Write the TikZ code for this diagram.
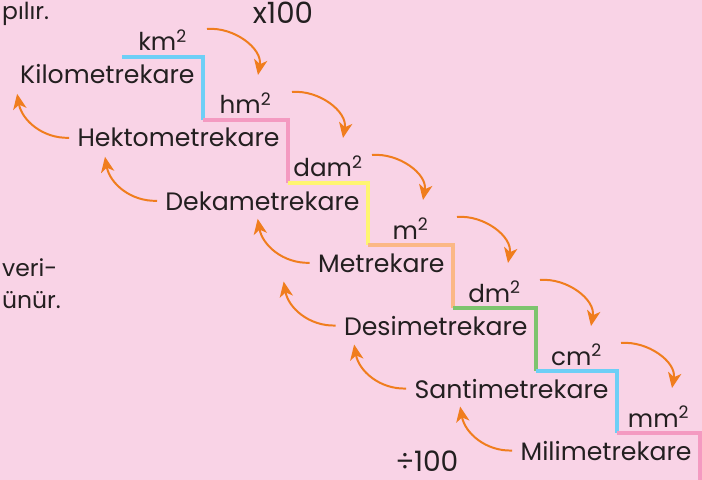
\documentclass[tikz,border=0pt]{standalone}
\usepackage{fontspec}
\setmainfont{Poppins}
\usetikzlibrary{arrows.meta}
\definecolor{cBack}  {HTML}{F9D3E6}
\definecolor{cText}  {HTML}{231F20}
\definecolor{cArrow} {HTML}{F07D1E}
\definecolor{cBlue}  {HTML}{6DCFF6}
\definecolor{cPink}  {HTML}{F49AC1}
\definecolor{cYellow}{HTML}{FFF571}
\definecolor{cSalmon}{HTML}{FBB886}
\definecolor{cGreen} {HTML}{7DC46E}

\begin{document}
\begin{tikzpicture}[x=0.03cm, y=-0.03cm,
      unitlbl/.style = {anchor=base, inner sep=1pt, text=cText, font=\fontsize{21}{24}\selectfont},
      namelbl/.style = {anchor=base east, inner sep=1pt, text=cText, font=\fontsize{21.5}{24}\selectfont},
      side/.style = {text=cText, inner sep=0pt, font=\fontsize{20}{24}\selectfont},
      stair/.style = {line width=0.12cm, line cap=butt},
      ar/.style = {-{Stealth[length=4.6mm, width=4mm, inset=1.3mm]}, draw=cArrow, line width=1.7pt} ]
    \fill[cBack] (0,0) rectangle (702,480);
    \useasboundingbox (0,0) rectangle (702,480);
    % steps: left x / corner x / y / next y / unit / name / colour
    \foreach \xl/\xr/\y/\yn/\u/\n/\c [count=\i] in {
        122/203/57/120/km/Kilometrekare/cBlue,
        203/288/120/183/hm/Hektometrekare/cPink,
        288/368/183/245/dam/Dekametrekare/cYellow,
        368/453/245/308/m/Metrekare/cSalmon,
        453/536/308/371/dm/Desimetrekare/cGreen,
        536/617/371/433/cm/Santimetrekare/cBlue,
        617/700/433/484/mm/Milimetrekare/cPink} {
      \draw[stair, draw=\c] (\xl,\y) -- (\xr,\y) -- (\xr,\yn);
      \node[unitlbl] (u\i) at ({(\xl+\xr)/2}, \y-6) {\u\textsuperscript{2}};
      \node[namelbl] (n\i) at (\xr-7, \y+27) {\n};
      \coordinate (d\i) at (\xr+4, \y-28);
      \coordinate (t\i) at (\xr+55, \yn-45);
    }
    % x100 downwards
    \foreach \i in {1,...,6}
      \draw[ar] (d\i) to[out=5, in=80] (t\i);
    % /100 upwards
    \foreach \i in {2,...,7} {
      \coordinate (w\i) at ([xshift=-0.21cm]n\i.west);
      \coordinate (k\i) at ([xshift=-1.56cm, yshift=1.32cm]w\i);
      \draw[ar] (w\i) to[out=182, in=-80] (k\i);
    }
    \node[side, font=\fontsize{25}{28}\selectfont] (times) at (283,13) {x100};
    \node[side, font=\fontsize{24}{28}\selectfont] (divide) at (427,461) {÷100};
    \node[side, anchor=west] (s1) at (2,14) {pılır.};
    \node[side, anchor=west] (s2) at (2,268) {veri-};
    \node[side, anchor=west] (s3) at (2,300) {ünür.};
  \end{tikzpicture}
\end{document}
